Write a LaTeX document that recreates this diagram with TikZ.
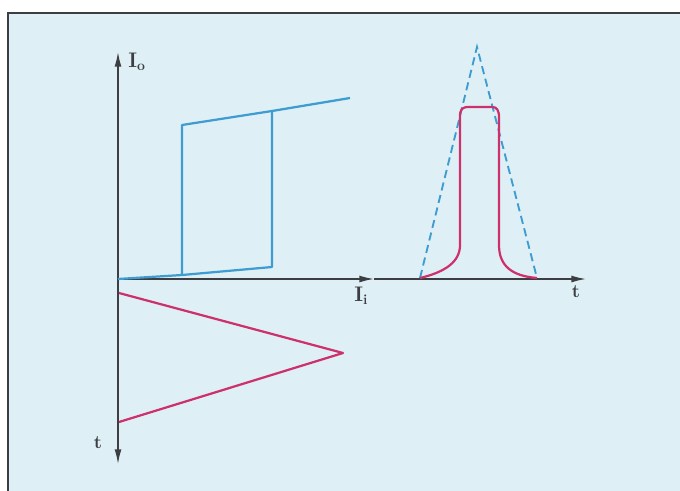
\documentclass[tikz,border=0pt]{standalone}
\usepackage{tikz}
\usetikzlibrary{arrows.meta}
\definecolor{paperbg}{RGB}{222,240,246}
\definecolor{loopblue}{RGB}{62,156,208}
\definecolor{pulsered}{RGB}{206,48,108}
\definecolor{axisgray}{RGB}{60,62,66}

\begin{document}
\begin{tikzpicture}[
  x=0.3mm, y=-0.3mm,
  axis/.style={draw=axisgray, line width=1.3pt},
  tip/.style={-{Latex[length=4.4mm, width=2.1mm]}},
  loop/.style={draw=loopblue, line width=1.9pt, line join=round},
  pulse/.style={draw=pulsered, line width=1.9pt, line join=round},
  ramp/.style={draw=loopblue, line width=1.6pt, dash pattern=on 7pt off 4pt},
  lbl/.style={font=\fontsize{18}{20}\selectfont\bfseries, text=axisgray, inner sep=1pt}
]
\clip (0,0) rectangle (680,490);
\fill[white] (0,0) rectangle (680,490);
\draw[fill=paperbg, draw=axisgray, line width=1.1pt] (8,13) rectangle (700,510);

\coordinate (o) at (118,279);
\coordinate (ytop) at (118,52);
\coordinate (ybot) at (118,464);
\coordinate (xmid) at (374,279);
\coordinate (tend) at (586,279);

\draw[axis, tip] (o) -- (ytop);
\draw[axis, tip] (o) -- (ybot);
\draw[axis, tip] (o) -- (xmid);
\draw[axis, tip] (xmid) -- (tend);

\node[lbl, anchor=west] (io) at (127,62) {I\raisebox{-0.3ex}{\large o}};
\node[lbl, anchor=north] (ii) at (361,286) {I\raisebox{-0.3ex}{\large i}};
\node[lbl, anchor=north] (tr) at (576,284) {\fontsize{16}{18}\selectfont t};
\node[lbl] (tb) at (98,443) {\fontsize{16}{18}\selectfont t};

% hysteresis loop
\draw[loop] (o) -- (182,275) -- (182,125) -- (272,111) -- (350,98);
\draw[loop] (182,275) -- (272,267) -- (272,111);

% triangular input
\draw[pulse] (119,293) -- (343,353) -- (119,422);

% output pulse
\draw[ramp] (420,278) -- (477,47) -- (537,278);
\draw[pulse] (420,278) .. controls (445,272) and (460,262) .. (460,245)
  -- (460,117) .. controls (460,109) and (462,107) .. (469,107)
  -- (492,107) .. controls (497,107) and (499,110) .. (499,118)
  -- (499,245) .. controls (499,266) and (512,276) .. (537,278);
\end{tikzpicture}
\end{document}
